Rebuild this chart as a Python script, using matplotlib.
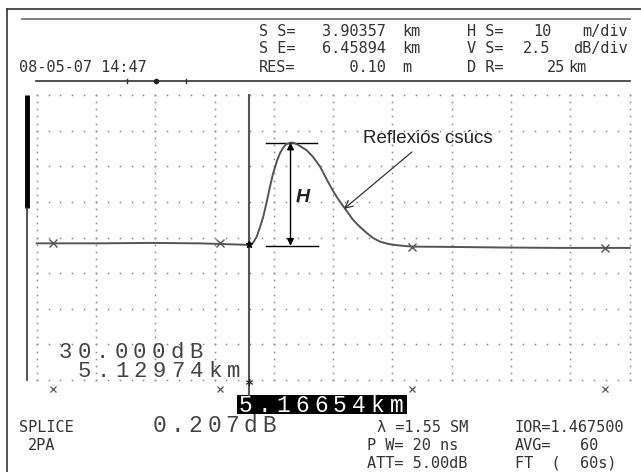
import numpy as np
import matplotlib
matplotlib.use('Agg')
import matplotlib.pyplot as plt

W, H = 641, 472

# trace: distance in m from left edge, level in dB from bottom
dist_m = [0, 10.7, 19.1, 27.5, 35.97, 36.48, 37.10, 37.67, 38.21, 38.79, 39.34, 39.85, 40.52,
          41.03, 41.54, 42.04, 42.83, 43.39, 44.06, 44.74, 45.53, 46.59, 47.77, 48.95, 49.97,
          50.81, 51.65, 52.50, 53.34, 54.52, 55.65, 56.71, 57.90, 59.24, 60.71, 63.24, 69.7,
          78.1, 88.2, 100]
level_db = [9.59, 9.59, 9.62, 9.59, 9.48, 9.62, 10.06, 10.74, 11.47, 12.50, 13.57, 14.47, 15.38,
            15.92, 16.29, 16.54, 16.66, 16.64, 16.50, 16.33, 16.12, 15.66, 14.98, 14.04, 13.27,
            12.71, 12.22, 11.73, 11.24, 10.74, 10.32, 9.97, 9.71, 9.55, 9.46, 9.36, 9.34,
            9.30, 9.27, 9.27]
trace_marks_m = [2.7, 30.9]
trace_marks_db = [9.59, 9.59]
trace_marks2_m = [63.3, 95.8]
trace_marks2_db = [9.36, 9.27]
cursor_m = 35.8
bottom_marks_m = [2.7, 30.9, 63.3, 95.8]
peak_db = 16.66
base_db = 9.52
peak_m = 42.8

header_left = ['S S=', 'S E=', 'RES=']
header_vals = ['3.90357', '6.45894', '   0.10']
header_units = ['km', 'km', 'm']
header_left2 = ['H S=', 'V S=', 'D R=']
header_vals2 = ['10', '2.5', '25']
header_units2 = ['m/div', 'dB/div', 'km']
date_txt = '08-05-07 14:47'

gray = '#555555'
dotc = '#8a8a8a'


def fp(x, y):
    return x / W, 1 - y / H


fig = plt.figure(figsize=(W / 100, H / 100), dpi=100)
fig.patch.set_facecolor('white')

# grid area in pixels
gx0, gx1, gy0, gy1 = 36.7, 629.7, 95.0, 380.0
ax = fig.add_axes([gx0 / W, 1 - gy1 / H, (gx1 - gx0) / W, (gy1 - gy0) / H])
ax.set_xlim(0, 100)
ax.set_ylim(0, 20)
ax.axis('off')

# dotted grid: dots every 1/5 division along the major lines
for gx in np.arange(0, 100.01, 10):
    yy = np.arange(0, 20.01, 0.5)
    ax.plot([gx] * len(yy), yy, ls='none', marker='s', ms=1.1, mec='none', mfc=dotc, clip_on=False)
for gy in np.arange(0, 20.01, 2.5):
    xx = np.arange(0, 100.01, 2)
    ax.plot(xx, [gy] * len(xx), ls='none', marker='s', ms=1.1, mec='none', mfc=dotc, clip_on=False)

# trace
ax.plot(dist_m, level_db, color=gray, lw=1.4, clip_on=False, zorder=3)
ax.plot(trace_marks_m, trace_marks_db, ls='none', marker='x', ms=6, mew=1.0, color=gray, zorder=4)
ax.plot(trace_marks2_m, trace_marks2_db, ls='none', marker='x', ms=6, mew=1.0, color=gray, zorder=4)
ax.plot([cursor_m], [base_db + 0.05], ls='none', marker='*', ms=5, color='black', zorder=5)

# cursor line
ax.plot([cursor_m, cursor_m], [20, -1.1], color=gray, lw=1.5, clip_on=False)

# H measurement
ax.plot([38.6, 47.3], [peak_db, peak_db], color='black', lw=1.0)
ax.plot([38.6, 47.5], [base_db - 0.1, base_db - 0.1], color='black', lw=1.0)
ax.annotate('', xy=(peak_m, peak_db), xytext=(peak_m, base_db - 0.1),
            arrowprops=dict(arrowstyle='<|-|>', color='black', lw=1.0, mutation_scale=10,
                            shrinkA=0, shrinkB=0))
ax.text(44.8, 12.8, 'H', fontsize=14, style='italic', fontweight='bold',
        family='Liberation Sans', ha='center', va='center', color='#222222')

# Reflexios label with arrow
ax.annotate('Reflexiós csúcs', xy=(51.8, 12.0), xytext=(55.0, 16.6),
            fontsize=13.5, family='Liberation Sans', color='#222222',
            ha='left', va='baseline',
            arrowprops=dict(arrowstyle='->', color='#333333', lw=0.9,
                            shrinkA=2, shrinkB=0, relpos=(0.42, 0.0)))

# bottom markers under the grid
for m in bottom_marks_m:
    ax.plot([m], [-0.65], ls='none', marker='x', ms=5, mew=0.9, color=gray, clip_on=False)
ax.text(cursor_m, -0.45, '*', fontsize=11, ha='center', va='center', color='#222222',
        family='DejaVu Sans Mono', fontweight='bold')

# frame lines and header rules
ov = fig.add_axes([0, 0, 1, 1], zorder=-1)
ov.set_xlim(0, W)
ov.set_ylim(H, 0)
ov.axis('off')
ov.plot([7, 7], [8.7, H], color='#333333', lw=1.2)
ov.plot([7, W], [8.7, 8.7], color='#333333', lw=1.2)
ov.plot([22, 630], [19, 19], color='#777777', lw=1.3)
ov.plot([36, 630], [80.7, 80.7], color='#333333', lw=1.2)
for tx in [127, 186]:
    ov.plot([tx, tx], [78.5, 83], color='#333333', lw=1.0)
ov.plot([156], [80.7], marker='o', ms=3, color='#222222')

# left level bar
ov.plot([27, 27], [95, 208], color='black', lw=3.5, solid_capstyle='butt')
ov.plot([27, 27], [208, 380], color='#333333', lw=1.2)

mono = 'DejaVu Sans Mono'
small = 11.0
tc = '#333333'

rows = [36, 53, 72]
for i, yb in enumerate(rows):
    fig.text(*fp(259, yb), header_left[i], fontsize=small, family=mono, color=tc, va='baseline')
    fig.text(*fp(322, yb), header_vals[i], fontsize=small, family=mono, color=tc, va='baseline')
    fig.text(*fp(402, yb), header_units[i], fontsize=small, family=mono, color=tc, va='baseline')
    fig.text(*fp(467, yb), header_left2[i], fontsize=small, family=mono, color=tc, va='baseline')
fig.text(*fp(533, 36), header_vals2[0], fontsize=small, family=mono, color=tc, va='baseline')
fig.text(*fp(523, 53), header_vals2[1], fontsize=small, family=mono, color=tc, va='baseline')
fig.text(*fp(547, 72), header_vals2[2], fontsize=small, family=mono, color=tc, va='baseline')
fig.text(*fp(628, 36), header_units2[0], fontsize=small, family=mono, color=tc, va='baseline', ha='right')
fig.text(*fp(628, 53), header_units2[1], fontsize=small, family=mono, color=tc, va='baseline', ha='right')
fig.text(*fp(568, 72), header_units2[2], fontsize=small, family=mono, color=tc, va='baseline')
fig.text(*fp(19, 72), date_txt, fontsize=small, family=mono, color=tc, va='baseline')


def spaced(txt, x, yb, pitch, size, color='#444444', **kw):
    for k, ch in enumerate(txt):
        fig.text(*fp(x + k * pitch + pitch / 2, yb), ch, fontsize=size, family='Liberation Mono',
                 color=color, va='baseline', ha='center', **kw)


spaced('30.000dB', 56, 358, 18.6, 16)
spaced('5.12974km', 75, 377, 18.7, 16)
spaced('0.207dB', 150, 432, 18.3, 16.5)

# highlighted distance box
ov.add_patch(plt.Rectangle((237, 394.5), 170, 19, color='black', lw=0))
spaced('5.16654km', 236, 411.5, 18.9, 16.5, color='white')

fig.text(*fp(19, 432), 'SPLICE', fontsize=small, family=mono, color=tc, va='baseline')
fig.text(*fp(28, 450), '2PA', fontsize=small, family=mono, color=tc, va='baseline')
fig.text(*fp(377, 432), 'λ =1.55 SM', fontsize=small, family=mono, color=tc, va='baseline')
fig.text(*fp(515, 432), 'IOR=1.467500', fontsize=small, family=mono, color=tc, va='baseline')
fig.text(*fp(367, 450), 'P W= 20 ns', fontsize=small, family=mono, color=tc, va='baseline')
fig.text(*fp(515, 450), 'AVG=', fontsize=small, family=mono, color=tc, va='baseline')
fig.text(*fp(580, 450), '60', fontsize=small, family=mono, color=tc, va='baseline')
fig.text(*fp(367, 468), 'ATT= 5.00dB', fontsize=small, family=mono, color=tc, va='baseline')
fig.text(*fp(515, 468), 'FT  (', fontsize=small, family=mono, color=tc, va='baseline')
fig.text(*fp(580, 468), '60s)', fontsize=small, family=mono, color=tc, va='baseline')

fig.savefig('out.png', dpi=100)
